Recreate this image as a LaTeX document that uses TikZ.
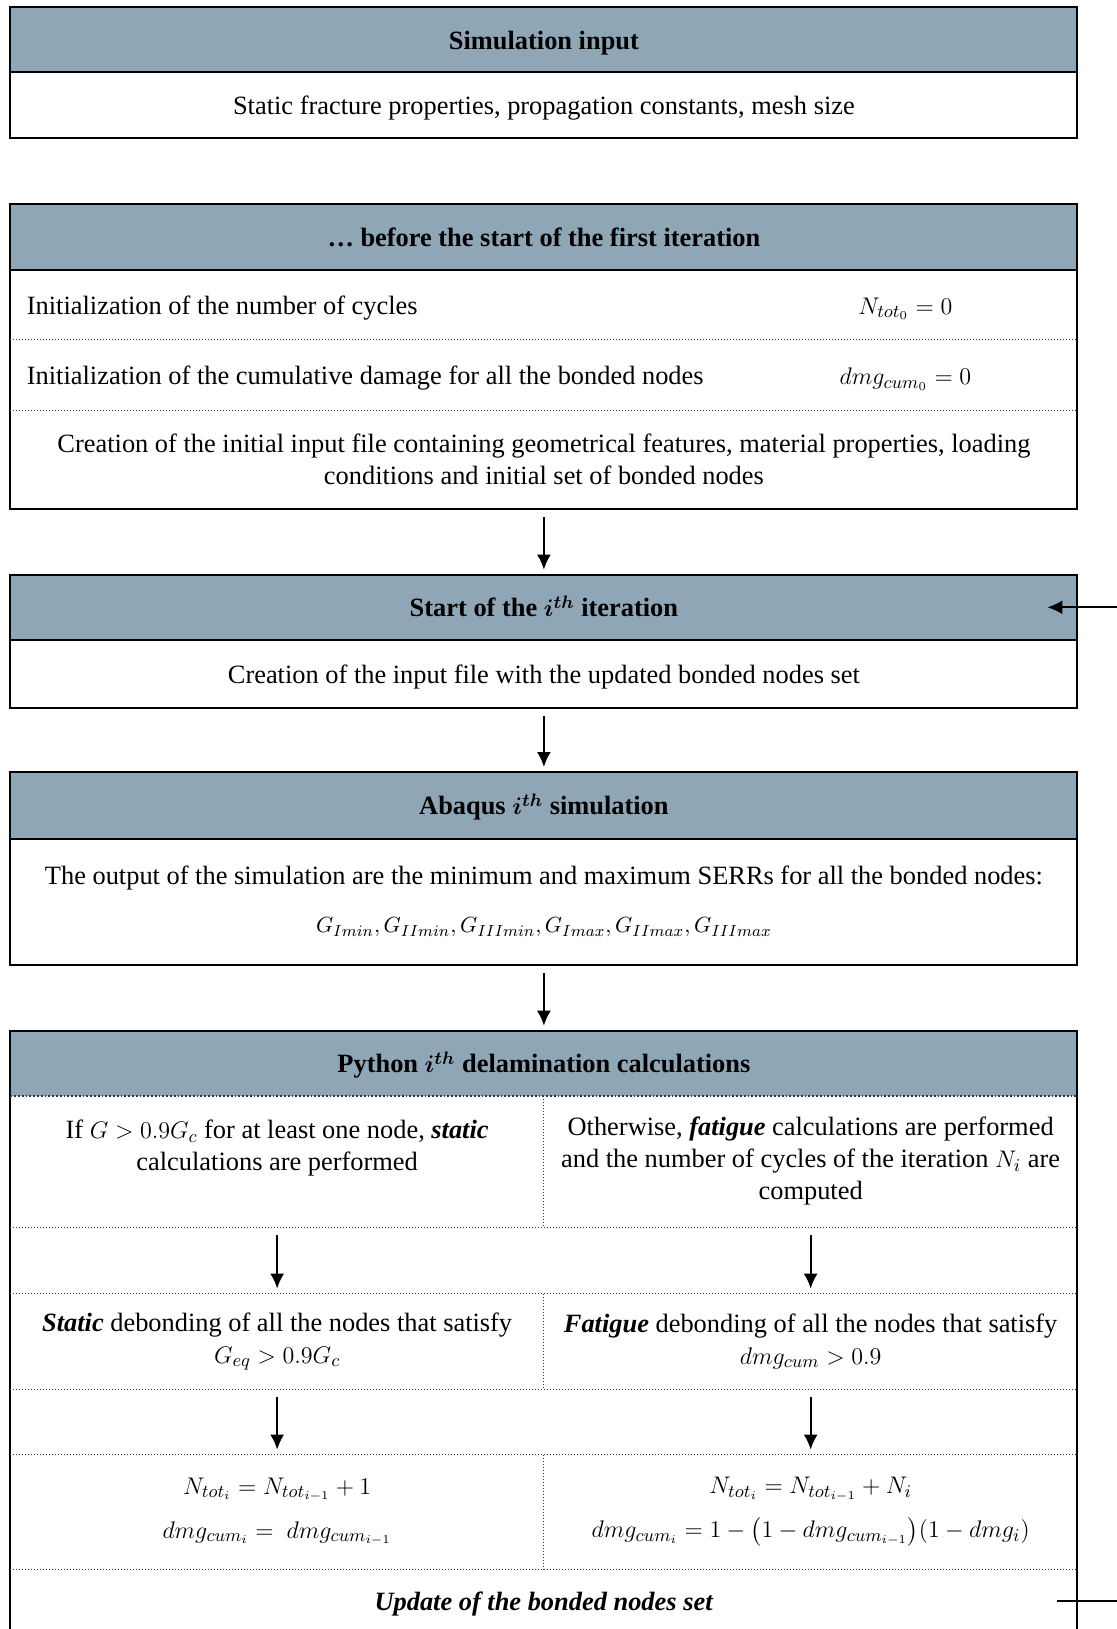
\documentclass[tikz,border=0pt]{standalone}
\usepackage{amsmath}
\usepackage{fontspec}
\setmainfont{Liberation Serif}
\usepackage{xcolor}
\usepackage{tikz}
\usetikzlibrary{arrows.meta, positioning, calc}
\definecolor{headfill}{HTML}{8FA6B6}
\definecolor{sepcolor}{HTML}{333333}
\newcommand{\ith}{$\boldsymbol{i^{th}}$}
\newcommand{\bodysize}{\fontsize{13.2}{16}\selectfont}
\newcommand{\fml}[1]{{\fontsize{12.3}{16}\selectfont$#1$}}

\begin{document}
\begin{tikzpicture}[
        x=1pt, y=1pt,
        every node/.style={outer sep=0pt, inner sep=0pt, font=\bodysize},
        oneline/.style={text height=11.5pt, text depth=2pt},
        head/.style={
            rectangle,
            draw,
            line width=1pt,
            fill=headfill,
            minimum width=533.5pt,
            minimum height=33pt,
            oneline,
            font=\bodysize\bfseries
        },
        row/.style={rectangle, minimum width=533.5pt, text width=517pt, align=flush center},
        half/.style={rectangle, minimum width=266.75pt, text width=259pt, align=flush center},
        frame/.style={draw, line width=1pt},
        sep/.style={draw=sepcolor, densely dotted, line width=0.5pt},
        arrow/.style={-{Latex[length=7.5pt,width=7pt]}, line width=1pt, shorten <=4pt, shorten >=2.5pt}
    ]
        \useasboundingbox (0,0) rectangle (558.5,-814.5);
        \clip (0,0) rectangle (558.5,-814.5);

        % Input
        \node[head, anchor=north, minimum height=32.2pt] (inhead) at (271.95,-3.65) {Simulation input};
        \node[row, oneline, minimum height=33.25pt, below=0pt of inhead] (inbody) {Static fracture properties, propagation constants, mesh size};

        % Before the first iteration
        \node[head, minimum height=33.2pt, below=32.7pt of inbody] (prehead) {\dots\ before the start of the first iteration};
        \node[row, oneline, align=flush left, minimum height=34.85pt, below=0pt of prehead] (cycles) {Initialization of the number of cycles};
        \node[row, oneline, align=flush left, minimum height=35.35pt, below=0pt of cycles] (damage) {Initialization of the cumulative damage for all the bonded nodes};
        \node[row, minimum height=49.35pt, below=0pt of damage] (inputfile) {Creation of the initial input file containing geometrical features, material properties, loading\\ conditions and initial set of bonded nodes};
        \node[anchor=base] (ncyc0) at ([xshift=-86pt]cycles.base east) {\fml{N_{tot_0} = 0}};
        \node[anchor=base] (dmg0) at ([xshift=-86pt]damage.base east) {\fml{dmg_{cum_0} = 0}};

        % Iteration
        \node[head, minimum height=32.7pt, below=32.75pt of inputfile] (iterhead) {Start of the \ith\ iteration};
        \node[row, oneline, minimum height=33.8pt, below=0pt of iterhead] (newinput) {Creation of the input file with the updated bonded nodes set};

        % Abaqus
        \node[head, minimum height=33.25pt, below=32.2pt of newinput] (abqhead) {Abaqus \ith\ simulation};
        \node[row, minimum height=63.25pt, below=0pt of abqhead] (serr) {The output of the simulation are the minimum and maximum SERRs for all the bonded nodes:\\[8pt]
            {\fontsize{11.1}{16}\selectfont$G_{Imin}, G_{IImin}, G_{IIImin}, G_{Imax}, G_{IImax}, G_{IIImax}$}};

        % Python
        \node[head, draw=none, minimum height=32.65pt, below=32.85pt of serr] (pyhead) {Python \ith\ delamination calculations};
        \node[half, minimum height=65.5pt, anchor=north west] (statcond) at (pyhead.south west) {If $G > 0.9G_c$ for at least one node, \textbf{\textit{static}}\\ calculations are performed\\ \mbox{}};
        \node[half, minimum height=65.5pt, right=0pt of statcond] (fatcond) {Otherwise, \textbf{\textit{fatigue}} calculations are performed\\ and the number of cycles of the iteration $N_i$ are\\ computed};
        \node[half, minimum height=47.7pt, below=33.3pt of statcond] (statdeb) {\textbf{\textit{Static}} debonding of all the nodes that satisfy\\ \fml{G_{eq} > 0.9G_c}};
        \node[half, minimum height=47.7pt, right=0pt of statdeb] (fatdeb) {\textbf{\textit{Fatigue}} debonding of all the nodes that satisfy\\ \fml{dmg_{cum} > 0.9}};
        \node[half, minimum height=57.2pt, below=32.8pt of statdeb] (statupd) {\fml{N_{tot_i} = N_{tot_{i-1}} + 1}\\[6pt] \fml{dmg_{cum_i} = \ dmg_{cum_{i-1}}}};
        \node[half, minimum height=57.2pt, right=0pt of statupd] (fatupd) {\fml{N_{tot_i} = N_{tot_{i-1}} + N_i}\\[6pt] \fml{dmg_{cum_i} = 1 - \bigl(1 - dmg_{cum_{i-1}}\bigr)(1 - dmg_i)}};
        \node[row, oneline, minimum height=32pt, anchor=north west] (update) at (statupd.south west) {\textbf{\textit{Update of the bonded nodes set}}};

        % Frames
        \draw[frame] (inhead.north west) rectangle (inbody.south east);
        \draw[frame] (prehead.north west) rectangle (inputfile.south east);
        \draw[frame] (iterhead.north west) rectangle (newinput.south east);
        \draw[frame] (abqhead.north west) rectangle (serr.south east);
        \draw[frame] (pyhead.north west) rectangle (update.south east);

        % Dotted rules
        \draw[sep] (cycles.south west) -- (cycles.south east);
        \draw[sep] (damage.south west) -- (damage.south east);
        \draw[sep, line width=0.9pt] (pyhead.south west) -- (pyhead.south east);
        \draw[sep] (statcond.south west) -- (fatcond.south east);
        \draw[sep] (statdeb.north west) -- (fatdeb.north east);
        \draw[sep] (statdeb.south west) -- (fatdeb.south east);
        \draw[sep] (statupd.north west) -- (fatupd.north east);
        \draw[sep] (statupd.south west) -- (fatupd.south east);
        \draw[sep] (statcond.north east) -- (statcond.south east);
        \draw[sep] (statdeb.north east) -- (statdeb.south east);
        \draw[sep] (statupd.north east) -- (statupd.south east);

        % Arrows
        \draw[arrow] (inputfile) -- (iterhead);
        \draw[arrow] (newinput) -- (abqhead);
        \draw[arrow] (serr) -- (pyhead);
        \draw[arrow] (statcond) -- (statdeb);
        \draw[arrow] (fatcond) -- (fatdeb);
        \draw[arrow] (statdeb) -- (statupd);
        \draw[arrow] (fatdeb) -- (fatupd);

        % Loop back
        \draw[arrow, shorten <=0pt, shorten >=0pt] ([xshift=-10pt]update.east) -- ++(40pt,0) |- ([xshift=-15pt]iterhead.east);
    \end{tikzpicture}
\end{document}
